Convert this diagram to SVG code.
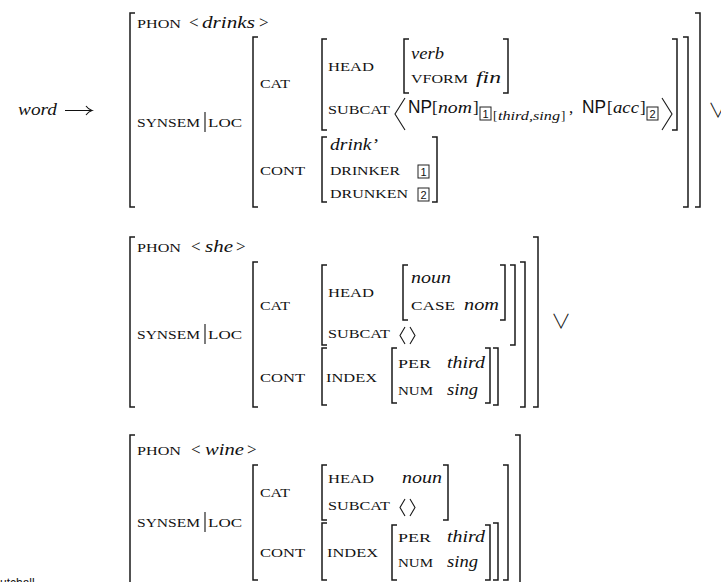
<svg xmlns="http://www.w3.org/2000/svg" width="721" height="582" viewBox="0 0 721 582">
<defs>
<style>
.t{font-family:"Liberation Serif","Times New Roman",serif;fill:#111}
.sc{font-size:13px}
.it{font-size:17px;font-style:italic}
.rm{font-size:17px}
.ss{font-family:"Liberation Sans",Arial,sans-serif;font-size:17.5px;fill:#111}
.sub{font-size:13px}
.subi{font-size:13px;font-style:italic}
.br{fill:none;stroke:#1a1a1a;stroke-width:1.5}
.ang{fill:none;stroke:#1a1a1a;stroke-width:1.1}
.box{fill:none;stroke:#222;stroke-width:1}
.dig{font-family:"Liberation Sans",Arial,sans-serif;font-size:11px;fill:#111;text-anchor:middle}
.or{font-family:"Noto Sans CJK JP","DejaVu Sans",sans-serif;font-size:20px;font-weight:300;fill:#111}
.ln{fill:none;stroke:#111;stroke-width:1.1}
</style>
</defs>
<rect width="721" height="582" fill="#fff"/>

<g id="rule-lhs">
<text class="t it" x="18" y="115" textLength="39" lengthAdjust="spacingAndGlyphs">word</text>
<path class="ln" d="M65,110.5 H91 M86,106 Q88.5,109.5 92,110.5 Q88.5,111.5 86,115"/>
</g>

<!-- ============ Entry 1: drinks ============ -->
<g id="avm-drinks">
<path class="br" d="M135,13 H130 V207 H135"/>
<path class="br" d="M695,13 H700 V207 H695"/>
<text class="t sc" x="137" y="28" textLength="44" lengthAdjust="spacingAndGlyphs">PHON</text>
<text class="t rm" x="189" y="28">&lt;</text>
<text class="t it" x="202" y="28" textLength="53" lengthAdjust="spacingAndGlyphs">drinks</text>
<text class="t rm" x="259" y="28">&gt;</text>
<text class="t sc" x="137" y="127" textLength="63" lengthAdjust="spacingAndGlyphs">SYNSEM</text>
<path class="ln" d="M205,112 V132"/>
<text class="t sc" x="208" y="127" textLength="34" lengthAdjust="spacingAndGlyphs">LOC</text>
<g id="drinks-loc">
<path class="br" d="M258,37 H253 V207 H258"/>
<path class="br" d="M683,37 H688 V207 H683"/>
<text class="t sc" x="260" y="88" textLength="30" lengthAdjust="spacingAndGlyphs">CAT</text>
<text class="t sc" x="260" y="175" textLength="45" lengthAdjust="spacingAndGlyphs">CONT</text>
<g id="drinks-cat">
<path class="br" d="M327,39 H322 V130 H327"/>
<path class="br" d="M672,39 H677 V130 H672"/>
<text class="t sc" x="328" y="71" textLength="46" lengthAdjust="spacingAndGlyphs">HEAD</text>
<path class="br" d="M409,39 H404 V93 H409"/>
<path class="br" d="M503,39 H508 V93 H503"/>
<text class="t it" x="411" y="59" textLength="33" lengthAdjust="spacingAndGlyphs">verb</text>
<text class="t sc" x="411" y="83" textLength="57" lengthAdjust="spacingAndGlyphs">VFORM</text>
<text class="t it" x="476" y="83" textLength="25" lengthAdjust="spacingAndGlyphs">fin</text>
<text class="t sc" x="328" y="114" textLength="62" lengthAdjust="spacingAndGlyphs">SUBCAT</text>
<path class="ang" d="M405,98 L395,114 L405,130"/>
<text class="ss" x="408" y="113" textLength="24" lengthAdjust="spacingAndGlyphs">NP</text>
<text class="t rm" x="432" y="113">[</text>
<text class="t it" x="438" y="113" textLength="34" lengthAdjust="spacingAndGlyphs">nom</text>
<text class="t rm" x="473" y="113">]</text>
<rect class="box" x="480" y="107" width="11" height="13"/>
<text class="dig" x="485.5" y="118">1</text>
<text class="t sub" x="493" y="120">[</text>
<text class="t subi" x="498" y="120" textLength="62" lengthAdjust="spacingAndGlyphs">third,sing</text>
<text class="t sub" x="561" y="120">]</text>
<text class="t rm" x="569" y="113">,</text>
<text class="ss" x="582" y="113" textLength="24" lengthAdjust="spacingAndGlyphs">NP</text>
<text class="t rm" x="607" y="113">[</text>
<text class="t it" x="613" y="113" textLength="26" lengthAdjust="spacingAndGlyphs">acc</text>
<text class="t rm" x="640" y="113">]</text>
<rect class="box" x="647" y="107" width="11" height="13"/>
<text class="dig" x="652.5" y="118">2</text>
<path class="ang" d="M662,98 L672,114 L662,130"/>
</g>
<g id="drinks-cont">
<path class="br" d="M327,137 H322 V202 H327"/>
<path class="br" d="M432,137 H437 V202 H432"/>
<text class="t it" x="330" y="150" textLength="48" lengthAdjust="spacingAndGlyphs">drink’</text>
<text class="t sc" x="330" y="175" textLength="70" lengthAdjust="spacingAndGlyphs">DRINKER</text>
<rect class="box" x="418" y="165" width="11" height="13"/>
<text class="dig" x="423.5" y="176">1</text>
<text class="t sc" x="330" y="198" textLength="78" lengthAdjust="spacingAndGlyphs">DRUNKEN</text>
<rect class="box" x="418" y="188" width="11" height="13"/>
<text class="dig" x="423.5" y="199">2</text>
</g>
</g>
<text class="or" x="708" y="118">∨</text>
</g>

<!-- ============ Entry 2: she ============ -->
<g id="avm-she">
<path class="br" d="M135,237 H130 V407 H135"/>
<path class="br" d="M533,237 H538 V407 H533"/>
<text class="t sc" x="137" y="252" textLength="44" lengthAdjust="spacingAndGlyphs">PHON</text>
<text class="t rm" x="191" y="252">&lt;</text>
<text class="t it" x="205" y="252" textLength="28" lengthAdjust="spacingAndGlyphs">she</text>
<text class="t rm" x="236" y="252">&gt;</text>
<text class="t sc" x="137" y="339" textLength="63" lengthAdjust="spacingAndGlyphs">SYNSEM</text>
<path class="ln" d="M205,324 V344"/>
<text class="t sc" x="208" y="339" textLength="34" lengthAdjust="spacingAndGlyphs">LOC</text>
<g id="she-loc">
<path class="br" d="M258,262 H253 V407 H258"/>
<path class="br" d="M520,262 H525 V407 H520"/>
<text class="t sc" x="260" y="310" textLength="30" lengthAdjust="spacingAndGlyphs">CAT</text>
<text class="t sc" x="260" y="382" textLength="45" lengthAdjust="spacingAndGlyphs">CONT</text>
<g id="she-cat">
<path class="br" d="M327,265 H322 V345 H327"/>
<path class="br" d="M510,265 H515 V345 H510"/>
<text class="t sc" x="328" y="297" textLength="46" lengthAdjust="spacingAndGlyphs">HEAD</text>
<path class="br" d="M408,265 H403 V320 H408"/>
<path class="br" d="M500,265 H505 V320 H500"/>
<text class="t it" x="411" y="283" textLength="40" lengthAdjust="spacingAndGlyphs">noun</text>
<text class="t sc" x="411" y="310" textLength="44" lengthAdjust="spacingAndGlyphs">CASE</text>
<text class="t it" x="464" y="310" textLength="35" lengthAdjust="spacingAndGlyphs">nom</text>
<text class="t sc" x="328" y="338" textLength="62" lengthAdjust="spacingAndGlyphs">SUBCAT</text>
<path class="ang" d="M405,327 L400,335.5 L405,344 M410,327 L415,335.5 L410,344"/>
</g>
<g id="she-cont">
<path class="br" d="M327,348 H322 V405 H327"/>
<path class="br" d="M493,348 H498 V405 H493"/>
<text class="t sc" x="326" y="382" textLength="51" lengthAdjust="spacingAndGlyphs">INDEX</text>
<path class="br" d="M397,348 H392 V403 H397"/>
<path class="br" d="M485,348 H490 V403 H485"/>
<text class="t sc" x="398" y="368" textLength="33" lengthAdjust="spacingAndGlyphs">PER</text>
<text class="t it" x="447" y="368" textLength="38" lengthAdjust="spacingAndGlyphs">third</text>
<text class="t sc" x="398" y="395" textLength="35" lengthAdjust="spacingAndGlyphs">NUM</text>
<text class="t it" x="447" y="395" textLength="31" lengthAdjust="spacingAndGlyphs">sing</text>
</g>
</g>
<text class="or" x="551" y="329">∨</text>
</g>

<!-- ============ Entry 3: wine ============ -->
<g id="avm-wine">
<path class="br" d="M135,435 H130 V600"/>
<path class="br" d="M515,435 H520 V600"/>
<text class="t sc" x="137" y="455" textLength="44" lengthAdjust="spacingAndGlyphs">PHON</text>
<text class="t rm" x="191" y="455">&lt;</text>
<text class="t it" x="205" y="455" textLength="39" lengthAdjust="spacingAndGlyphs">wine</text>
<text class="t rm" x="247" y="455">&gt;</text>
<text class="t sc" x="137" y="527" textLength="63" lengthAdjust="spacingAndGlyphs">SYNSEM</text>
<path class="ln" d="M205,512 V532"/>
<text class="t sc" x="208" y="527" textLength="34" lengthAdjust="spacingAndGlyphs">LOC</text>
<g id="wine-loc">
<path class="br" d="M258,465 H253 V580 H258"/>
<path class="br" d="M503,465 H508 V580 H503"/>
<text class="t sc" x="260" y="497" textLength="30" lengthAdjust="spacingAndGlyphs">CAT</text>
<text class="t sc" x="260" y="557" textLength="45" lengthAdjust="spacingAndGlyphs">CONT</text>
<g id="wine-cat">
<path class="br" d="M327,465 H322 V520 H327"/>
<path class="br" d="M443,465 H448 V520 H443"/>
<text class="t sc" x="328" y="483" textLength="46" lengthAdjust="spacingAndGlyphs">HEAD</text>
<text class="t it" x="402" y="483" textLength="40" lengthAdjust="spacingAndGlyphs">noun</text>
<text class="t sc" x="328" y="510" textLength="62" lengthAdjust="spacingAndGlyphs">SUBCAT</text>
<path class="ang" d="M405,499 L400,507.5 L405,516 M410,499 L415,507.5 L410,516"/>
</g>
<g id="wine-cont">
<path class="br" d="M327,523 H322 V580 H327"/>
<path class="br" d="M493,523 H498 V580 H493"/>
<text class="t sc" x="327" y="557" textLength="51" lengthAdjust="spacingAndGlyphs">INDEX</text>
<path class="br" d="M397,525 H392 V580 H397"/>
<path class="br" d="M485,525 H490 V580 H485"/>
<text class="t sc" x="398" y="542" textLength="33" lengthAdjust="spacingAndGlyphs">PER</text>
<text class="t it" x="447" y="542" textLength="38" lengthAdjust="spacingAndGlyphs">third</text>
<text class="t sc" x="398" y="567" textLength="35" lengthAdjust="spacingAndGlyphs">NUM</text>
<text class="t it" x="447" y="567" textLength="31" lengthAdjust="spacingAndGlyphs">sing</text>
</g>
</g>
</g>

<text x="0" y="587" style="font-family:'Liberation Sans',Arial,sans-serif;font-size:12px;fill:#111">utchall</text>
</svg>
